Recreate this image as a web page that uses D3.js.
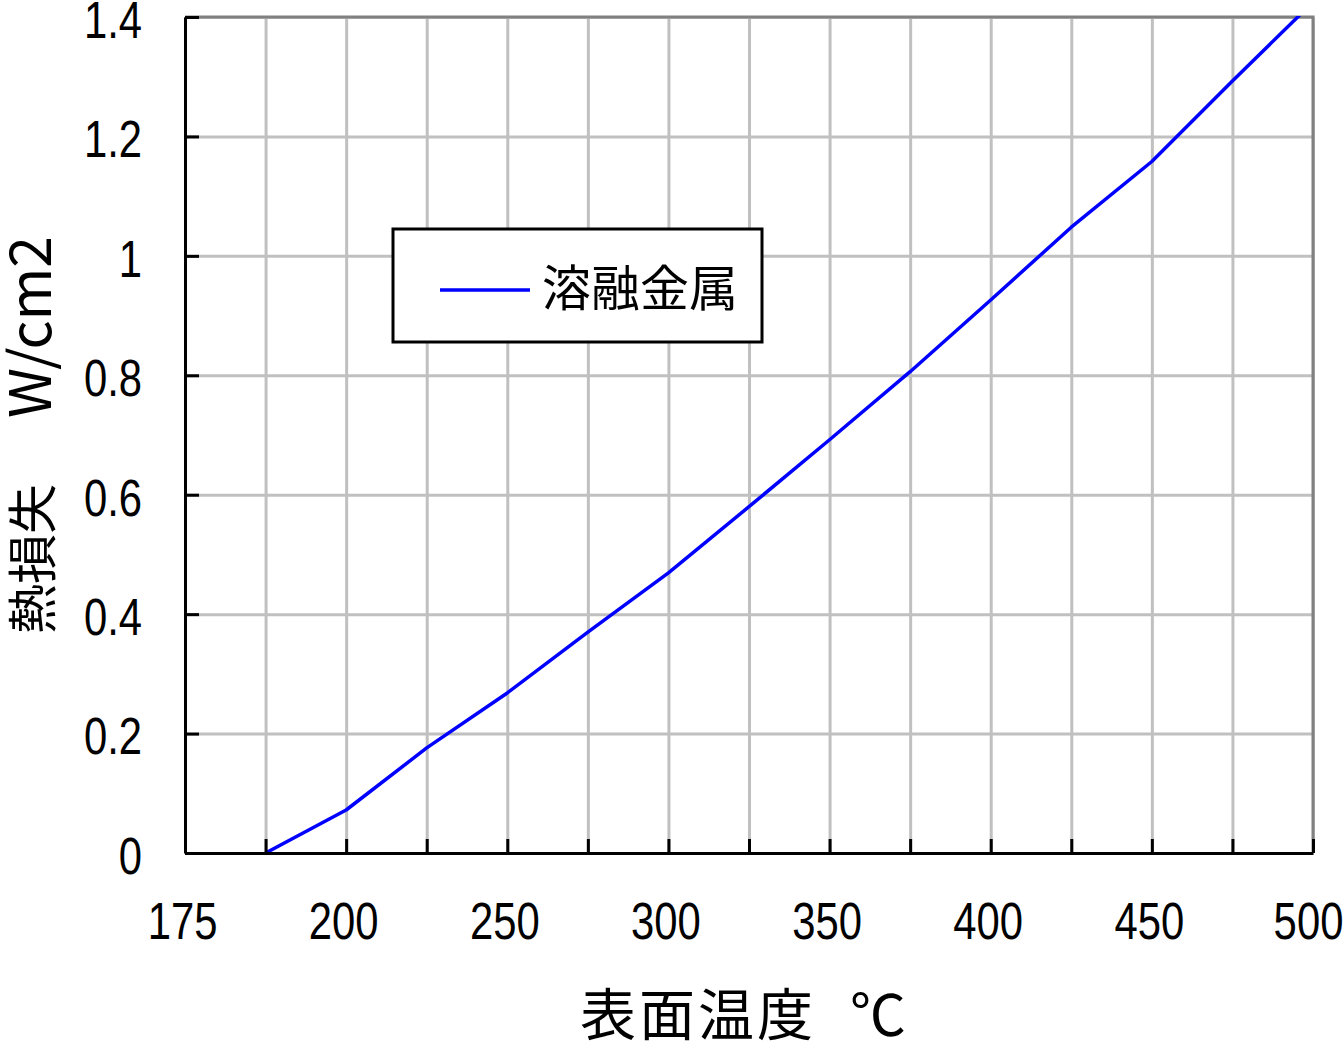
<!DOCTYPE html>
<html>
<head>
<meta charset="utf-8">
<script src="https://cdn.jsdelivr.net/npm/d3@7"></script>
<style>
  html, body { margin: 0; padding: 0; background: #ffffff; }
  svg { display: block; }
</style>
</head>
<body>
<svg id="chart" width="1344" height="1052"></svg>
<script>
// ---- data ----
const temperatures = [175, 200, 225, 250, 275, 300, 325, 350, 375, 400, 425, 450, 475, 500];
const heatLoss     = [0, 0.072, 0.176, 0.268, 0.370, 0.469, 0.580, 0.692, 0.806, 0.926, 1.048, 1.158, 1.293, 1.425];
const seriesName = "溶融金属";
const xGridValues = [150, 175, 200, 225, 250, 275, 300, 325, 350, 375, 400, 425, 450, 475, 500];
const xTickValues = [150, 200, 250, 300, 350, 400, 450, 500];
const xTickLabels = ["175", "200", "250", "300", "350", "400", "450", "500"];
const yTickValues = [0, 0.2, 0.4, 0.6, 0.8, 1.0, 1.2, 1.4];
const yTickLabels = ["0", "0.2", "0.4", "0.6", "0.8", "1", "1.2", "1.4"];
const xTitleParts = ["表面温度", "℃"];   // 表面温度　℃
const yTitleParts = ["熱損失", "W/cm2"];  // 熱損失　W/cm2

// ---- layout ----
const svg = d3.select("#chart");
const L = 185, R = 1313, T = 17, B = 853;
const x = d3.scaleLinear().domain([150, 500]).range([L, R]);
const y = d3.scaleLinear().domain([0, 1.4]).range([B, T]);

const numFont = "'Liberation Sans', Arial, sans-serif";
const cjkFont = "'Noto Sans CJK JP', 'Noto Sans', sans-serif";
const NX = 0.82; // horizontal condensing of the digit labels

// gridlines
svg.append("g")
  .attr("transform", `translate(0,${B})`)
  .call(d3.axisBottom(x).tickValues(xGridValues).tickSize(-(B - T)).tickFormat(""))
  .call(g => g.select(".domain").remove())
  .call(g => g.selectAll("line").attr("stroke", "#c0c0c0").attr("stroke-width", 3));
svg.append("g")
  .attr("transform", `translate(${L},0)`)
  .call(d3.axisLeft(y).tickValues(yTickValues).tickSize(-(R - L)).tickFormat(""))
  .call(g => g.select(".domain").remove())
  .call(g => g.selectAll("line").attr("stroke", "#c0c0c0").attr("stroke-width", 3));

// border (top, right) gray
svg.append("path")
  .attr("d", `M${L},${T}H${R}V${B}`)
  .attr("fill", "none").attr("stroke", "#808080").attr("stroke-width", 3);

// clip
svg.append("clipPath").attr("id", "plotclip")
  .append("rect").attr("x", L).attr("y", T - 1).attr("width", R - L).attr("height", B - T + 1);

// line
const data = temperatures.map((t, i) => ({ t, v: heatLoss[i] }));
svg.append("path")
  .datum(data)
  .attr("clip-path", "url(#plotclip)")
  .attr("fill", "none")
  .attr("stroke", "#0000ff")
  .attr("stroke-width", 3.5)
  .attr("stroke-linejoin", "round")
  .attr("d", d3.line().x(d => x(d.t)).y(d => y(d.v)));

// axes: black with inward ticks
svg.append("g")
  .attr("transform", `translate(0,${B})`)
  .call(d3.axisBottom(x).tickValues(xGridValues).tickSize(-14).tickSizeOuter(0).tickFormat(""))
  .call(g => g.select(".domain").attr("stroke", "#000").attr("stroke-width", 3))
  .call(g => g.selectAll(".tick line").attr("stroke", "#000").attr("stroke-width", 3));
svg.append("g")
  .attr("transform", `translate(${L},0)`)
  .call(d3.axisLeft(y).tickValues(yTickValues).tickSize(-14).tickSizeOuter(0).tickFormat(""))
  .call(g => g.select(".domain").attr("stroke", "#000").attr("stroke-width", 3))
  .call(g => g.selectAll(".tick line").attr("stroke", "#000").attr("stroke-width", 3));

// tick labels
svg.append("g")
  .attr("transform", `translate(0,${B})`)
  .call(d3.axisBottom(x).tickValues(xTickValues).tickSize(0).tickPadding(0)
    .tickFormat((d, i) => xTickLabels[i]))
  .call(g => g.select(".domain").remove())
  .call(g => g.selectAll("text")
    .attr("y", 86).attr("dy", null)
    .attr("x", (d, i) => (i === xTickValues.length - 1 ? -5 : -3) / NX)
    .attr("transform", `scale(${NX},1)`)
    .attr("fill", "#000")
    .style("font-family", numFont).style("font-size", "51px"));
svg.append("g")
  .attr("transform", `translate(${L},0)`)
  .call(d3.axisLeft(y).tickValues(yTickValues).tickSize(0).tickPadding(0)
    .tickFormat((d, i) => yTickLabels[i]))
  .call(g => g.select(".domain").remove())
  .call(g => g.selectAll("text")
    .attr("x", -43 / NX).attr("dy", "0.4em")
    .attr("transform", `scale(${NX},1)`)
    .attr("fill", "#000")
    .style("font-family", numFont).style("font-size", "51px"));

// axis titles
const xt = svg.append("text")
  .attr("y", 1035)
  .style("font-family", cjkFont)
  .attr("fill", "#000");
xt.append("tspan").attr("x", 580).style("font-size", "56px").attr("letter-spacing", 3).text(xTitleParts[0]);
xt.append("tspan").attr("x", 850).style("font-size", "56px").text(xTitleParts[1]);

const yt = svg.append("text")
  .attr("transform", "rotate(-90)")
  .attr("y", 51)
  .style("font-family", cjkFont)
  .attr("fill", "#000");
yt.append("tspan").attr("x", -634).style("font-size", "50px").text(yTitleParts[0]);
yt.append("tspan").attr("x", -418).style("font-size", "57px").text(yTitleParts[1]);

// legend
const lg = svg.append("g");
lg.append("rect")
  .attr("x", 393).attr("y", 229).attr("width", 369).attr("height", 113)
  .attr("fill", "#fff").attr("stroke", "#000").attr("stroke-width", 3);
lg.append("line")
  .attr("x1", 440).attr("x2", 530).attr("y1", 290).attr("y2", 290)
  .attr("stroke", "#0000ff").attr("stroke-width", 3.5);
lg.append("text")
  .attr("x", 542).attr("y", 306)
  .style("font-family", cjkFont).style("font-size", "49px")
  .attr("fill", "#000")
  .text(seriesName);
</script>
</body>
</html>
